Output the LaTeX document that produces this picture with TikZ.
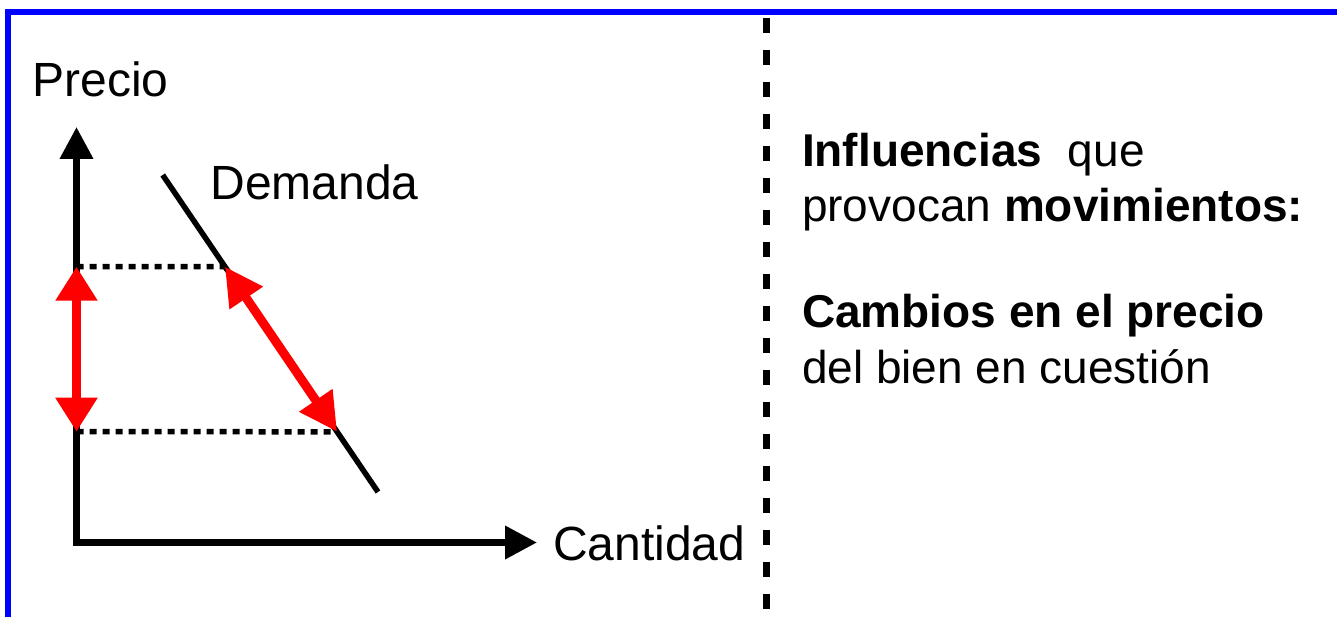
\documentclass[tikz,border=0pt]{standalone}
\usepackage{fontspec}
\setmainfont{Liberation Sans}
\usetikzlibrary{arrows.meta,calc}
\definecolor{frameblue}{RGB}{0,0,255}
\definecolor{arrred}{RGB}{255,0,0}
\begin{document}
\begin{tikzpicture}[x=1pt,y=-1pt,
  lbl/.style={anchor=base west,inner sep=0pt,outer sep=0pt,font=\fontsize{48}{56}\selectfont},
  rtxt/.style={anchor=base west,inner sep=0pt,outer sep=0pt,font=\fontsize{46}{55}\selectfont},
  axis/.style={line width=7pt,line join=miter,{Triangle[length=32pt,width=32pt]}-{Triangle[length=32pt,width=32pt]}},
  demand/.style={line width=5.5pt},
  guide/.style={line width=5.5pt,dash pattern=on 7pt off 6pt},
  vmove/.style={line width=9pt,arrred,{Triangle[length=34pt,width=40pt]}-{Triangle[length=34pt,width=40pt]}},
  dmove/.style={line width=9pt,arrred,{Triangle[length=38pt,width=38pt]}-{Triangle[length=38pt,width=38pt]}},
  divider/.style={line width=7pt,dash pattern=on 15pt off 17pt},
  frame/.style={line width=6pt,frameblue,line join=miter}]
\useasboundingbox (0,0) rectangle (1337,617);
% frame
\coordinate (fb) at (8,617);
\coordinate (fr) at (1337,12);
\draw[frame] (fb) |- (fr);
% axes
\coordinate (O) at (76.5,542.5);
\coordinate (ytop) at (76.5,127);
\coordinate (xend) at (537,542.5);
\draw[axis] (ytop) -- (O) -- (xend);
% demand
\coordinate (D1) at (162.7,175);
\coordinate (D2) at (378,492);
\draw[demand] (D1) -- (D2);
\coordinate (P1) at ($(D1)!0.289!(D2)$);
\coordinate (P2) at ($(D1)!0.81!(D2)$);
\coordinate (Y1) at (76.5,266.7);
\coordinate (Y2) at (76.5,431.7);
\draw[guide] (Y1) -- (P1);
\draw[guide] (Y2) -- (P2);
\draw[vmove] (Y1) -- (Y2);
\draw[dmove] (P1) -- (P2);
% labels
\node[lbl] (precio) at (32.5,97) {Precio};
\node[lbl] (demanda) at (210.5,200) {Demanda};
\node[lbl] (cantidad) at (553,560) {Cantidad};
% divider
\coordinate (dv1) at (766.7,18);
\coordinate (dv2) at (766.7,617);
\draw[divider] (dv1) -- (dv2);
% right text
\node[rtxt] (t1) at (802,166.7) {\textbf{Influencias}\ \ que};
\node[rtxt] (t2) at (802,221.7) {provocan \textbf{movimientos:}};
\node[rtxt] (t3) at (802,327) {\textbf{Cambios en el precio}};
\node[rtxt] (t4) at (802,383) {del bien en cuestión};
\end{tikzpicture}
\end{document}
